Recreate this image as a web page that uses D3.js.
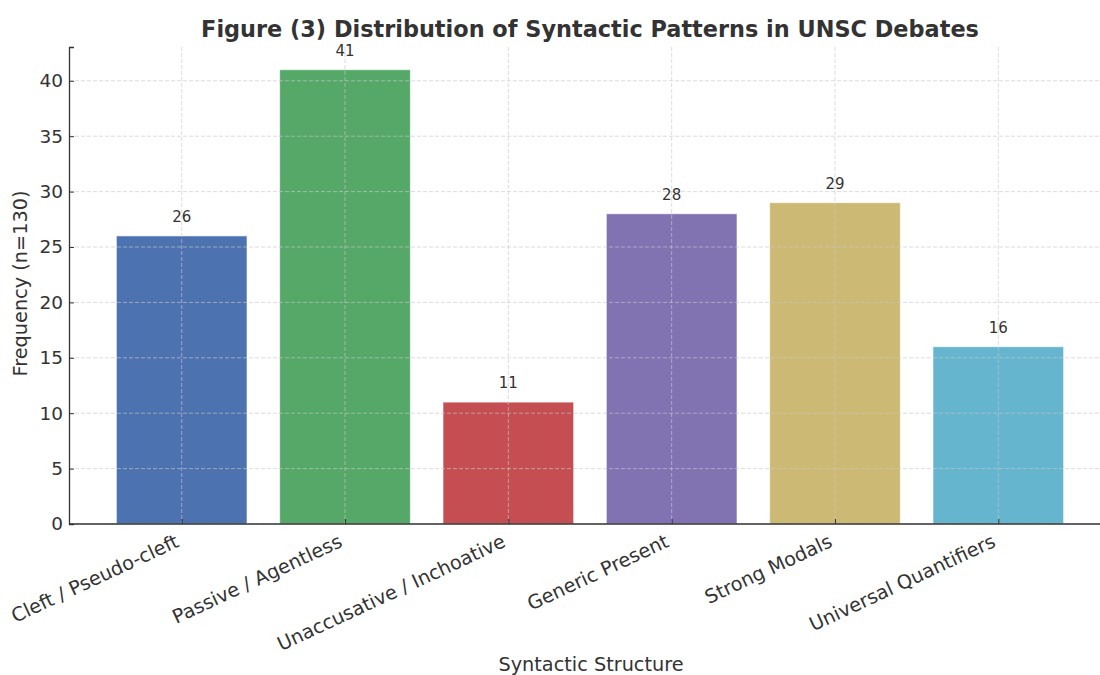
<!DOCTYPE html>
<html>
<head>
<meta charset="utf-8">
<script src="https://cdn.jsdelivr.net/npm/d3@7"></script>
<style>
  html, body { margin: 0; padding: 0; background: #fff; }
  svg { display: block; font-family: "DejaVu Sans", sans-serif; }
</style>
</head>
<body>
<svg id="chart" width="1100" height="675"></svg>
<script>
// Syntactic pattern counts (n = 130)
const categories = [
  "Cleft / Pseudo-cleft",
  "Passive / Agentless",
  "Unaccusative / Inchoative",
  "Generic Present",
  "Strong Modals",
  "Universal Quantifiers"
];
const frequencies = [26, 41, 11, 28, 29, 16];
const barColors = ["#4C72B0", "#55A868", "#C44E52", "#8172B2", "#CCB974", "#64B5CD"];
const yTicks = [0, 5, 10, 15, 20, 25, 30, 35, 40];

const svg = d3.select("#chart");
const textColor = "#333333";

const plotLeft = 69, plotBottom = 524, plotTop = 47;
// category index axis with padding around the outermost bars
const barWidth = 0.8;
const pad = 0.05 * (categories.length - 1 + barWidth);
const x = d3.scaleLinear()
  .domain([-barWidth / 2 - pad, categories.length - 1 + barWidth / 2 + pad])
  .range([plotLeft, plotLeft + 1042]);
const y = d3.scaleLinear()
  .domain([0, d3.max(frequencies) * 1.05])
  .range([plotBottom, plotTop]);

const g = svg.append("g");

// bars
g.selectAll("rect.bar")
  .data(frequencies)
  .join("rect")
  .attr("class", "bar")
  .attr("x", (d, i) => x(i - barWidth / 2))
  .attr("width", (d, i) => x(i + barWidth / 2) - x(i - barWidth / 2))
  .attr("y", d => y(d))
  .attr("height", d => y(0) - y(d))
  .attr("fill", (d, i) => barColors[i])
  .attr("stroke", "rgba(255,255,255,0.6)")
  .attr("stroke-width", 1);

// dashed grid drawn over the bars
const grid = g.append("g")
  .attr("stroke", "#c8c8c8")
  .attr("stroke-opacity", 0.8)
  .attr("stroke-width", 0.8)
  .attr("stroke-dasharray", "4,2");
grid.selectAll("line.h")
  .data(yTicks)
  .join("line")
  .attr("x1", plotLeft).attr("x2", 1100)
  .attr("y1", d => y(d)).attr("y2", d => y(d));
grid.selectAll("line.v")
  .data(categories)
  .join("line")
  .attr("x1", (d, i) => x(i)).attr("x2", (d, i) => x(i))
  .attr("y1", plotTop).attr("y2", plotBottom);

// value labels
g.selectAll("text.val")
  .data(frequencies)
  .join("text")
  .attr("class", "val")
  .attr("x", (d, i) => x(i))
  .attr("y", d => y(d + 1) - 3)
  .attr("text-anchor", "middle")
  .attr("font-size", 15)
  .attr("fill", textColor)
  .text(d => d);

// y axis
const yAxis = g.append("g")
  .attr("transform", `translate(${plotLeft},0)`)
  .call(d3.axisLeft(y).tickValues(yTicks).tickSize(-5).tickPadding(6));
yAxis.select(".domain").attr("stroke", textColor).attr("stroke-width", 1.3);
yAxis.selectAll(".tick line").attr("stroke", textColor);
yAxis.selectAll(".tick text").attr("font-size", 18.5).attr("fill", textColor)
  .attr("font-family", "DejaVu Sans");

// x axis
const xAxis = g.append("g")
  .attr("transform", `translate(0,${plotBottom})`)
  .call(d3.axisBottom(x).tickValues(d3.range(categories.length))
    .tickFormat(i => categories[i]).tickSize(-5).tickSizeOuter(0));
xAxis.select(".domain").attr("stroke", textColor).attr("stroke-width", 1.3)
  .attr("d", `M${plotLeft},0H1100`);
xAxis.selectAll(".tick line").attr("stroke", textColor);
xAxis.selectAll(".tick text")
  .attr("font-size", 19.3)
  .attr("font-family", "DejaVu Sans")
  .attr("fill", textColor)
  .attr("text-anchor", "end")
  .attr("dy", null)
  .attr("y", 0)
  .attr("transform", "translate(-2,22) rotate(-25)");

// titles
svg.append("text")
  .attr("x", 590).attr("y", 37)
  .attr("text-anchor", "middle")
  .attr("font-size", 22.4).attr("font-weight", "bold")
  .attr("fill", textColor)
  .text("Figure (3) Distribution of Syntactic Patterns in UNSC Debates");

svg.append("text")
  .attr("x", 591).attr("y", 671)
  .attr("text-anchor", "middle")
  .attr("font-size", 19.3)
  .attr("fill", textColor)
  .text("Syntactic Structure");

svg.append("text")
  .attr("transform", `translate(27,283.5) rotate(-90)`)
  .attr("text-anchor", "middle")
  .attr("font-size", 19.3)
  .attr("fill", textColor)
  .text("Frequency (n=130)");
</script>
</body>
</html>
